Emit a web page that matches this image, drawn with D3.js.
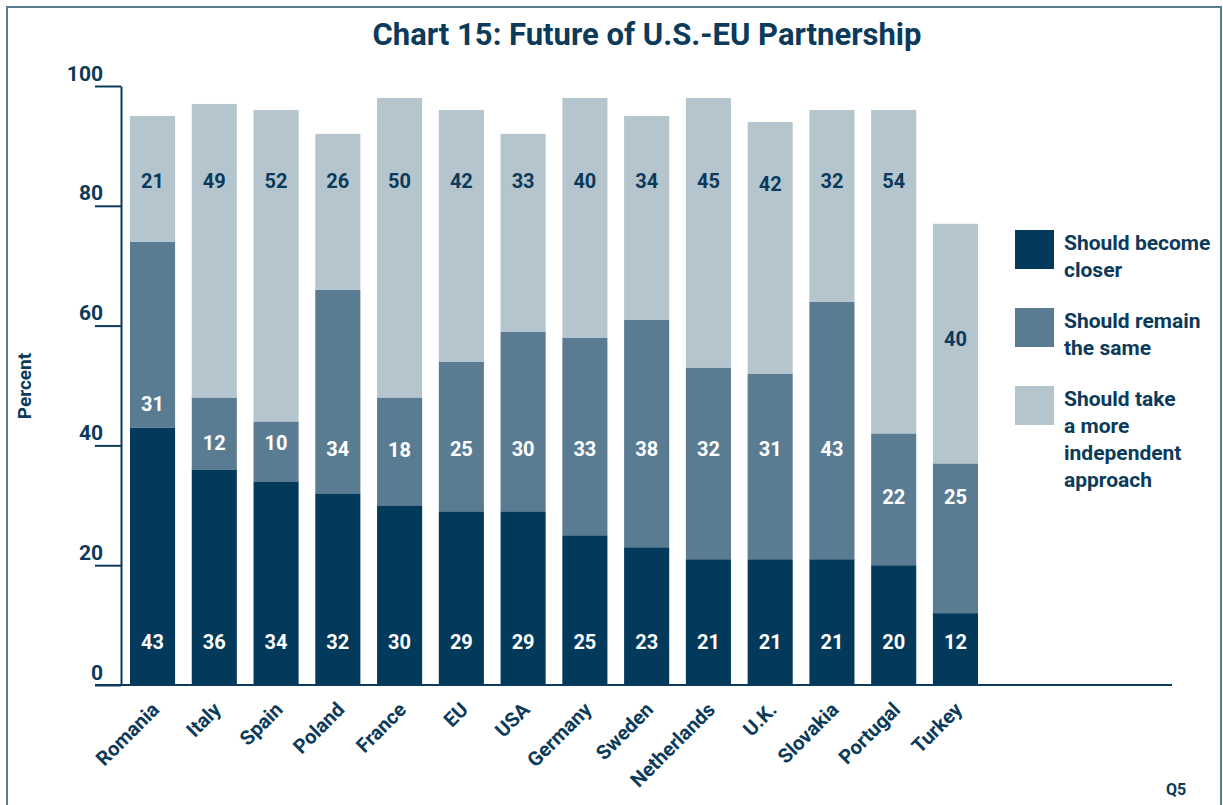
<!DOCTYPE html>
<html>
<head>
<meta charset="utf-8">
<script src="https://cdn.jsdelivr.net/npm/d3@7"></script>
<style>
  body { margin: 0; background: #fff; }
  svg { display: block; font-family: Roboto, 'Liberation Sans', sans-serif; }
</style>
</head>
<body>
<svg id="chart"></svg>
<script>
// data, in percent
const countries = ['Romania', 'Italy', 'Spain', 'Poland', 'France', 'EU', 'USA',
  'Germany', 'Sweden', 'Netherlands', 'U.K.', 'Slovakia', 'Portugal', 'Turkey']
const closer = [43, 36, 34, 32, 30, 29, 29, 25, 23, 21, 21, 21, 20, 12]
const same = [31, 12, 10, 34, 18, 25, 30, 33, 38, 32, 31, 43, 22, 25]
const independent = [21, 49, 52, 26, 50, 42, 33, 40, 34, 45, 42, 32, 54, 40]
const yTicks = [0, 20, 40, 60, 80, 100]
const seriesNames = ['Should become closer', 'Should remain the same', 'Should take a more independent approach']

// where the value labels sit, in percent on the y axis
const closerLabelAt = [7.2, 7.2, 7.2, 7.2, 7.2, 7.2, 7.2, 7.2, 7.2, 7.2, 7.2, 7.2, 7.2, 7.2]
const sameLabelAt = [46.9, 40.4, 40.4, 39.5, 39.3, 39.5, 39.5, 39.5, 39.5, 39.5, 39.5, 39.5, 31.4, 31.4]
const independentLabelAt = [84.2, 84.2, 84.2, 84.2, 84.2, 84.2, 84.2, 84.2, 84.2, 84.2, 83.7, 84.2, 84.2, 57.8]

const width = 1223
const height = 805
const ink = '#0b3a5a'
const colors = ['#033a5b', '#5a7c93', '#b5c5ce']
const labelColors = ['#fff', '#fff', ink]
const legendLines = [['Should become', 'closer'], ['Should remain', 'the same'],
  ['Should take', 'a more', 'independent', 'approach']]

let svg = d3.select('#chart').attr('width', width).attr('height', height)

// frame
svg.append('rect')
  .attr('x', 7).attr('y', 7)
  .attr('width', 1214).attr('height', 820)
  .attr('fill', 'none')
  .attr('stroke', '#5b7b93')
  .attr('stroke-width', 2)

let x = d3.scaleBand().domain(countries).range([130, 978]).paddingInner(0.27).paddingOuter(0)
let y = d3.scaleLinear().domain([0, 100]).range([685, 86])

let rows = countries.map((c, i) => ({country: c, closer: closer[i], same: same[i], independent: independent[i]}))
let keys = ['closer', 'same', 'independent']
let stacked = d3.stack().keys(keys)(rows)
let labelAt = [closerLabelAt, sameLabelAt, independentLabelAt]

// bars
let layers = svg.append('g').selectAll('g')
  .data(stacked)
  .join('g')
  .attr('fill', (d, i) => colors[i])

layers.selectAll('rect')
  .data(d => d)
  .join('rect')
  .attr('x', d => x(d.data.country))
  .attr('y', d => y(d[1]))
  .attr('width', x.bandwidth())
  .attr('height', d => y(d[0]) - y(d[1]))

// value labels
stacked.forEach((layer, li) => {
  svg.append('g')
    .selectAll('text')
    .data(layer)
    .join('text')
    .attr('x', d => x(d.data.country) + x.bandwidth() / 2)
    .attr('y', (d, i) => y(labelAt[li][i]))
    .attr('dy', '0.36em')
    .attr('text-anchor', 'middle')
    .attr('fill', labelColors[li])
    .attr('font-size', 20)
    .attr('font-weight', 700)
    .text(d => d.data[keys[li]])
})

// y axis
let yAxis = svg.append('g')
  .attr('transform', 'translate(121,0)')
  .call(d3.axisLeft(y).tickValues(yTicks).tickSize(26).tickSizeOuter(0).tickPadding(0))
yAxis.select('.domain').attr('stroke', ink).attr('stroke-width', 2)
yAxis.selectAll('.tick line').attr('stroke', ink).attr('stroke-width', 2)
yAxis.selectAll('.tick text')
  .attr('x', -18)
  .attr('dy', '-0.28em')
  .attr('fill', ink)
  .attr('font-size', 21)
  .attr('font-weight', 700)
  .attr('font-family', 'Roboto, sans-serif')

// x axis baseline
svg.append('line')
  .attr('x1', 95).attr('x2', 1172)
  .attr('y1', y(0)).attr('y2', y(0))
  .attr('stroke', ink)
  .attr('stroke-width', 2)

// category labels
svg.append('g')
  .selectAll('text')
  .data(countries)
  .join('text')
  .attr('transform', d => `translate(${x(d) + x.bandwidth() / 2 - 2},${y(0) + 16}) rotate(-45)`)
  .attr('dy', '0.7em')
  .attr('text-anchor', 'end')
  .attr('fill', ink)
  .attr('font-size', 20)
  .attr('font-weight', 700)
  .text(d => d)

// title
svg.append('text')
  .attr('x', 647)
  .attr('y', 45)
  .attr('text-anchor', 'middle')
  .attr('fill', ink)
  .attr('font-size', 31)
  .attr('font-weight', 700)
  .text('Chart 15: Future of U.S.-EU Partnership')

// y title
svg.append('text')
  .attr('transform', 'translate(31,386) rotate(-90)')
  .attr('text-anchor', 'middle')
  .attr('fill', ink)
  .attr('font-size', 19)
  .attr('font-weight', 700)
  .text('Percent')

// legend
let legend = svg.append('g')
  .selectAll('g')
  .data(seriesNames)
  .join('g')
  .attr('transform', (d, i) => `translate(1015,${230 + i * 78})`)

legend.append('rect')
  .attr('width', 39).attr('height', 39)
  .attr('fill', (d, i) => colors[i])

legend.append('text')
  .attr('fill', ink)
  .attr('font-size', 21)
  .attr('font-weight', 700)
  .selectAll('tspan')
  .data((d, i) => legendLines[i])
  .join('tspan')
  .attr('x', 49)
  .attr('y', (d, j) => 20 + j * 27)
  .text(d => d)

// question reference
svg.append('text')
  .attr('x', 1176)
  .attr('y', 795)
  .attr('text-anchor', 'middle')
  .attr('fill', ink)
  .attr('font-size', 16)
  .attr('font-weight', 700)
  .text('Q5')
</script>
</body>
</html>
